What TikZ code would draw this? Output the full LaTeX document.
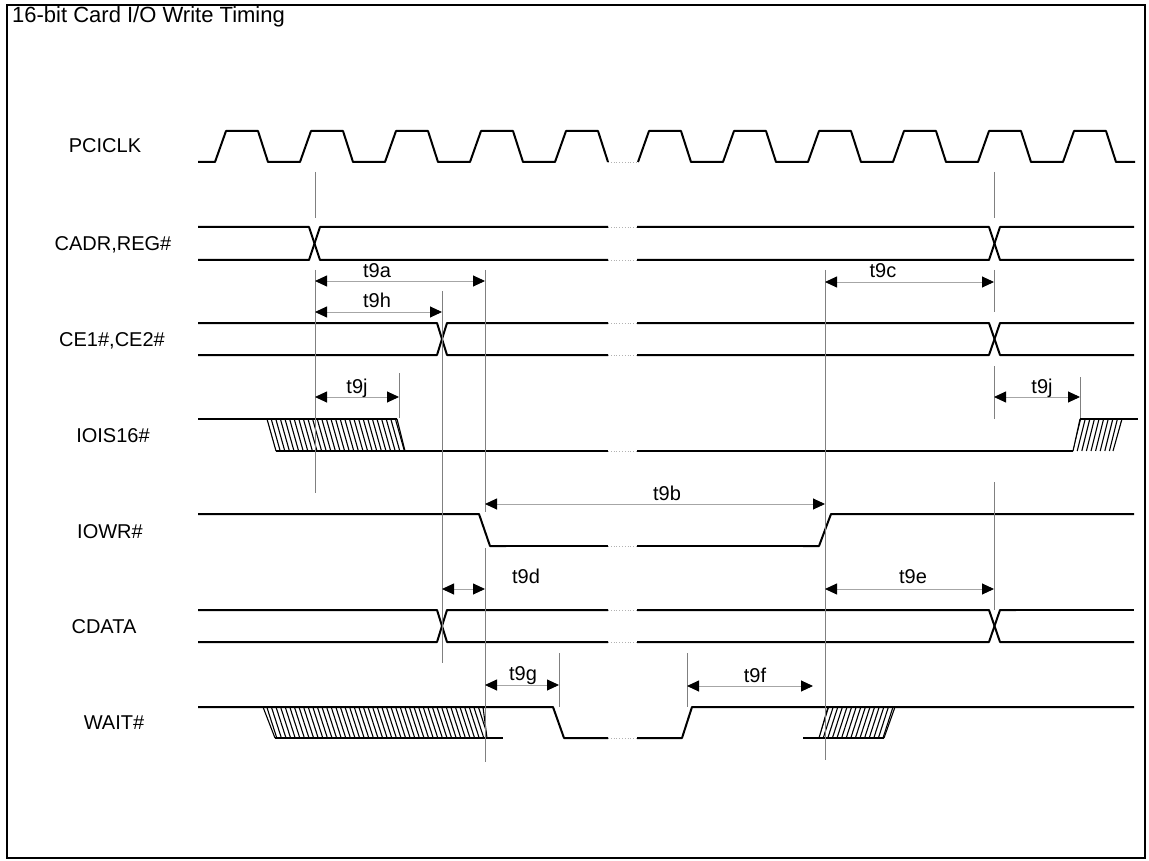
\documentclass[tikz,border=0pt]{standalone}
\usepackage{fontspec}
\setmainfont{Liberation Sans}
\usetikzlibrary{arrows.meta}

\begin{document}
\begin{tikzpicture}[x=1pt, y=-1pt,
  sig/.style={line width=2pt, line join=round},
  sigthin/.style={line width=1.3pt},
  gapdots/.style={gray!60, dotted, line width=0.8pt},
  guide/.style={black!50, line width=0.8pt},
  dimline/.style={gray!70, line width=0.9pt, <->},
  >={Triangle[length=12pt, width=11pt, color=black]},
  hatchline/.style={line width=1.1pt},
  signame/.style={font=\fontsize{20}{24}\selectfont, inner sep=0pt, anchor=base},
  tlabel/.style={font=\fontsize{20}{24}\selectfont, inner sep=0pt, anchor=base}]
\useasboundingbox (0,0) rectangle (1149,861);
\draw[line width=2pt] (7,5) rectangle (1145,858);
\node[font=\fontsize{22}{26}\selectfont, inner sep=0pt, anchor=base west] (title) at (12,23) {16-bit Card I/O Write Timing};

% signal names
\node[signame] (pciclk) at (105,153) {PCICLK};
\node[signame] (cadr) at (113,251) {CADR,REG\#};
\node[signame] (ce) at (112,346) {CE1\#,CE2\#};
\node[signame] (iois) at (113,442) {IOIS16\#};
\node[signame] (iowr) at (110,538) {IOWR\#};
\node[signame] (cdata) at (104,633) {CDATA};
\node[signame] (wait) at (114,729) {WAIT\#};

% PCICLK
\draw[sig] (198,162) \foreach \r in {215,300,385,470,555} { -- (\r,162) -- (\r+11,131) -- (\r+43,131) -- (\r+53,162) };
\draw[sig] (638,162) \foreach \r in {638,723,808,893,978,1063} { -- (\r,162) -- (\r+11,131) -- (\r+43,131) -- (\r+53,162) } -- (1135,162);

% break in the time axis
\foreach \y in {162,227,260,323,355,451,546,610,642,738}
  \draw[gapdots] (608,\y) -- (637,\y);

% CADR,REG#
\draw[sig] (198,227) -- (309,227) -- (320,260) -- (608,260);
\draw[sig] (198,260) -- (309,260) -- (320,227) -- (608,227);
\draw[sig] (637,227) -- (989,227) -- (1000,260) -- (1134,260);
\draw[sig] (637,260) -- (989,260) -- (1000,227) -- (1134,227);

% CE1#,CE2#
\draw[sig] (198,323) -- (437,323) -- (447,355) -- (608,355);
\draw[sig] (198,355) -- (437,355) -- (447,323) -- (608,323);
\draw[sig] (637,323) -- (989,323) -- (1000,355) -- (1134,355);
\draw[sig] (637,355) -- (989,355) -- (1000,323) -- (1134,323);

% IOIS16#
\draw[sig] (198,419) -- (397,419);
\draw[sig] (276,451) -- (422,451);
\draw[sigthin] (422,451) -- (608,451);
\draw[sigthin] (637,451) -- (1058,451);
\draw[sig] (1058,451) -- (1073,451);
\draw[sig] (1080,419) -- (1138,419);
\begin{scope}
  \clip (267,419) -- (397,419) -- (405,451) -- (276,451) -- cycle;
  \foreach \x in {262,266.6,...,406} \draw[hatchline] (\x,419) -- (\x+9,451);
\end{scope}
\draw[hatchline] (267,419) -- (276,451);
\draw[hatchline] (397,419) -- (405,451);
\begin{scope}
  \clip (1073,451) -- (1113,451) -- (1122,419) -- (1080,419) -- cycle;
  \foreach \x in {1068,1072.6,...,1120} \draw[hatchline] (\x,451) -- (\x+8,419);
\end{scope}
\draw[hatchline] (1073,451) -- (1080,419);
\draw[hatchline] (1113,451) -- (1122,419);

% IOWR#
\draw[sig] (198,514) -- (479,514) -- (490,546) -- (506,546);
\draw[sigthin] (506,546) -- (608,546);
\draw[sigthin] (637,546) -- (803,546);
\draw[sig] (803,546) -- (819,546) -- (831,514) -- (1134,514);

% CDATA
\draw[sig] (198,610) -- (437,610) -- (447,642) -- (608,642);
\draw[sig] (198,642) -- (437,642) -- (447,610) -- (608,610);
\draw[sig] (637,610) -- (989,610) -- (1000,642) -- (1134,642);
\draw[sig] (637,642) -- (989,642) -- (1000,610) -- (1016,610);
\draw[sigthin] (1016,610) -- (1134,610);

% WAIT#
\draw[sig] (198,707) -- (553,707) -- (564,738) -- (608,738);
\draw[sig] (275,738) -- (503,738);
\draw[sig] (637,738) -- (682,738) -- (692,707) -- (1134,707);
\draw[sig] (803,738) -- (884,738);
\begin{scope}
  \clip (263,707) -- (483,707) -- (487,738) -- (275,738) -- cycle;
  \foreach \x in {253,257.6,...,488} \draw[hatchline] (\x,707) -- (\x+10,738);
\end{scope}
\draw[hatchline] (263,707) -- (275,738);
\draw[hatchline] (483,707) -- (487,738);
\begin{scope}
  \clip (819,738) -- (884,738) -- (895,707) -- (828,707) -- cycle;
  \foreach \x in {814,818.6,...,892} \draw[hatchline] (\x,738) -- (\x+10,707);
\end{scope}
\draw[hatchline] (819,738) -- (828,707);
\draw[hatchline] (884,738) -- (895,707);

% reference lines
\draw[guide] (315,172) -- (315,218);
\draw[guide] (315,270) -- (315,493);
\draw[guide] (399,373) -- (399,418);
\draw[guide] (442,291) -- (442,663);
\draw[guide] (485,270) -- (485,512);
\draw[guide] (485,548) -- (485,762);
\draw[guide] (559,653) -- (559,707);
\draw[guide] (687,653) -- (687,707);
\draw[guide] (825,270) -- (825,760);
\draw[guide] (994,172) -- (994,218);
\draw[guide] (994,270) -- (994,312);
\draw[guide] (994,366) -- (994,419);
\draw[guide] (994,482) -- (994,610);
\draw[guide] (1080,377) -- (1080,418);

% timing parameters
\coordinate (t9a-s) at (315,281);  \coordinate (t9a-e) at (485,281);
\coordinate (t9h-s) at (315,312);  \coordinate (t9h-e) at (442,312);
\coordinate (t9c-s) at (825,282);  \coordinate (t9c-e) at (994,282);
\coordinate (t9jl-s) at (315,397); \coordinate (t9jl-e) at (399,397);
\coordinate (t9jr-s) at (994,397); \coordinate (t9jr-e) at (1080,397);
\coordinate (t9b-s) at (485,504);  \coordinate (t9b-e) at (825,504);
\coordinate (t9d-s) at (442,589);  \coordinate (t9d-e) at (485,589);
\coordinate (t9e-s) at (825,589);  \coordinate (t9e-e) at (994,589);
\coordinate (t9g-s) at (485,685);  \coordinate (t9g-e) at (559,685);
\coordinate (t9f-s) at (687,686);  \coordinate (t9f-e) at (813,686);
\draw[dimline] (t9a-s) -- (t9a-e);
\draw[dimline] (t9h-s) -- (t9h-e);
\draw[dimline] (t9c-s) -- (t9c-e);
\draw[dimline] (t9jl-s) -- (t9jl-e);
\draw[dimline] (t9jr-s) -- (t9jr-e);
\draw[dimline] (t9b-s) -- (t9b-e);
\draw[dimline] (t9d-s) -- (t9d-e);
\draw[dimline] (t9e-s) -- (t9e-e);
\draw[dimline] (t9g-s) -- (t9g-e);
\draw[dimline] (t9f-s) -- (t9f-e);
\node[tlabel] (l9a) at (377,277) {t9a};
\node[tlabel] (l9h) at (377,308) {t9h};
\node[tlabel] (l9c) at (883,278) {t9c};
\node[tlabel] (l9jl) at (357,393) {t9j};
\node[tlabel] (l9jr) at (1042,393) {t9j};
\node[tlabel] (l9b) at (667,500) {t9b};
\node[tlabel] (l9d) at (526,583) {t9d};
\node[tlabel] (l9e) at (913,583) {t9e};
\node[tlabel] (l9g) at (523,680) {t9g};
\node[tlabel] (l9f) at (755,682) {t9f};
\end{tikzpicture}
\end{document}
